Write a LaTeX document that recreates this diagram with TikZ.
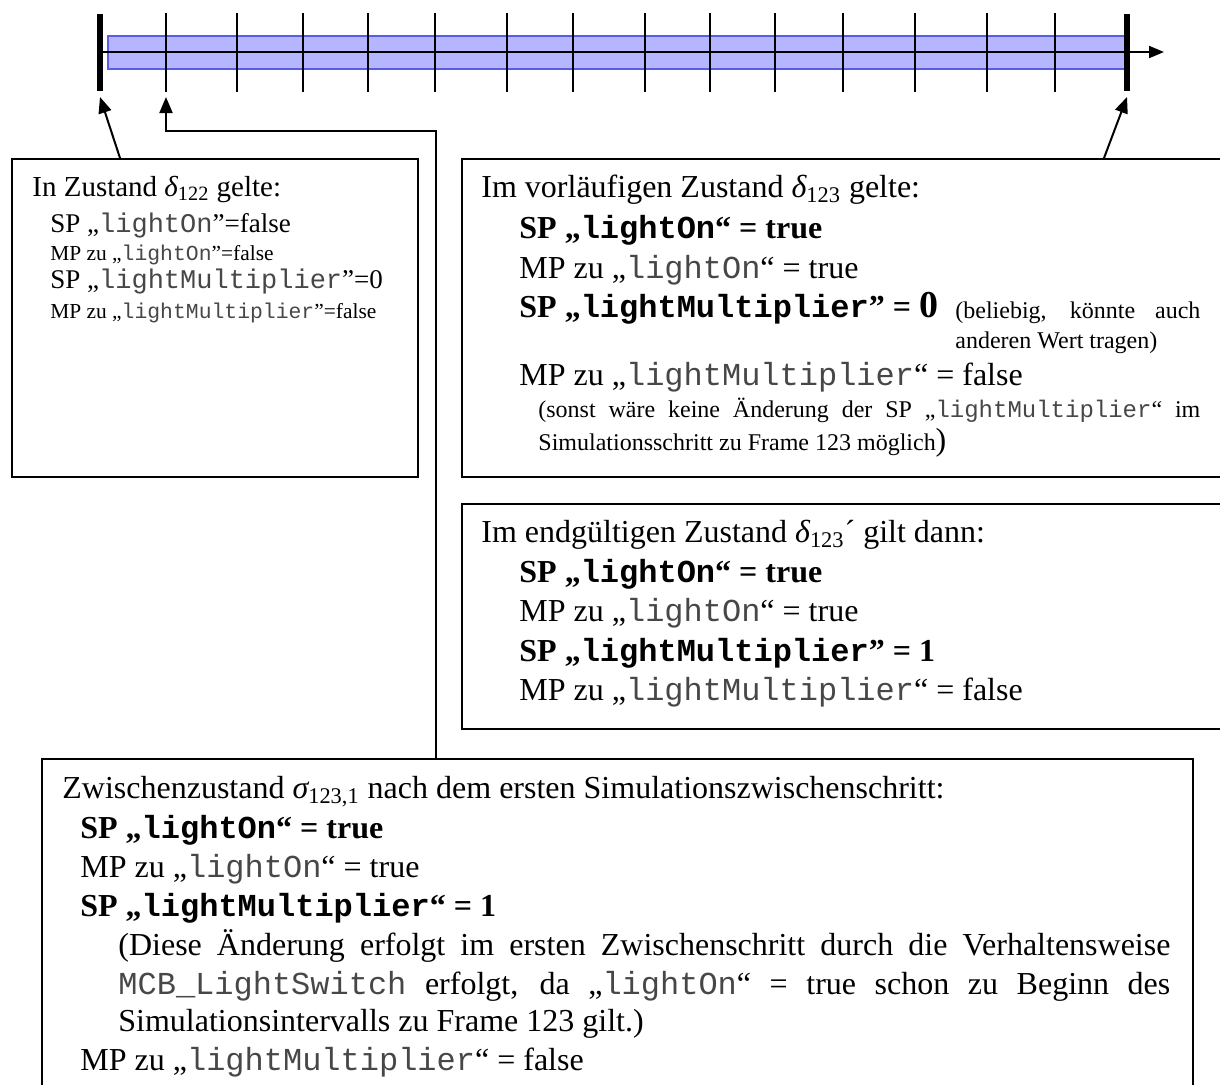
\documentclass[tikz,border=0pt]{standalone}
\usepackage{fontspec}
\setmainfont{Liberation Serif}
\setmonofont{Liberation Mono}
\usetikzlibrary{arrows.meta,calc}

\definecolor{bandfill}{RGB}{182,182,255}
\definecolor{bandline}{RGB}{90,90,235}
\definecolor{codegray}{gray}{0.28}

% identifiers in monospace
\newcommand{\cd}[1]{{\ttfamily\color{codegray}#1}}
\newcommand{\cdb}[1]{{\ttfamily #1}}
\newcommand{\ix}[1]{\textsubscript{#1}}

\tikzset{
  frame/.style={draw, line width=1pt, inner sep=0pt, anchor=north west},
  tick/.style={line width=1pt},
  bigtick/.style={line width=2.6pt},
  link/.style={line width=1pt, -{Triangle[length=8pt,width=6.5pt]}},
  txt/.style={anchor=base west, inner sep=0pt, font=\fontsize{16}{19}\selectfont},
  txth/.style={anchor=base west, inner sep=0pt, font=\fontsize{14.5}{17}\selectfont},
  txtm/.style={anchor=base west, inner sep=0pt, font=\fontsize{13.5}{16}\selectfont},
  txts/.style={anchor=base west, inner sep=0pt, font=\fontsize{10.7}{12}\selectfont},
  note/.style={anchor=base west, inner sep=0pt, font=\fontsize{12}{14}\selectfont},
}

\begin{document}
\begin{tikzpicture}[x=0.5pt,y=-0.5pt]
\useasboundingbox (0,0) rectangle (1220,1084);
\clip (0,0) rectangle (1220,1084);

% time axis with the simulated interval
\fill[bandfill] (108,36) rectangle (1125,69);
\draw[bandline, line width=1pt] (108,36) rectangle (1125,69);
\foreach \x in {166,237,303,368,435,507,573,645,710,775,843,915,987,1055}
  \draw[tick] (\x,13) -- (\x,92);
\draw[bigtick] (100,14) -- (100,91);
\draw[bigtick] (1127,14) -- (1127,91);
\draw[line width=1pt, -{Triangle[length=7.5pt,width=6pt]}] (100,52) -- (1164,52);

\coordinate (t0) at (100,97);
\coordinate (t1) at (166,97);
\coordinate (t15) at (1127,97);

% boxes
\node[frame, minimum width=203pt, minimum height=159pt] (b1) at (11,158) {};
\node[frame, minimum width=390pt, minimum height=159pt] (b2) at (461,158) {};
\node[frame, minimum width=390pt, minimum height=112.5pt] (b3) at (461,503) {};
\node[frame, minimum width=575.5pt, minimum height=180pt] (b4) at (41,758) {};

% connectors
\draw[link] ([xshift=54.5pt]b1.north west) -- (t0);
\draw[link] ([xshift=197.5pt]b4.north west) |- ($(t1)+(0,34)$) -- (t1);
\draw[link] ([xshift=321.5pt]b2.north west) -- (t15);

% state delta_122
\node[txth] (b1t) at (32,196) {In Zustand {\itshape δ}\ix{122} gelte:};
\node[txtm] (b1a) at (50,232) {SP „\cd{lightOn}”=false};
\node[txts] (b1b) at (50,260) {MP zu „\cd{lightOn}”=false};
\node[txtm] (b1c) at (50,288) {SP „\cd{lightMultiplier}”=0};
\node[txts] (b1d) at (50,318) {MP zu „\cd{lightMultiplier}”=false};

% preliminary state delta_123
\node[txt] (b2t) at (481,197) {Im vorläufigen Zustand {\itshape δ}\ix{123} gelte:};
\node[txt] (b2a) at (519,238) {\bfseries SP „\cdb{lightOn}“ = true};
\node[txt] (b2b) at (519,278) {MP zu „\cd{lightOn}“ = true};
\node[txt] (b2c) at (519,317) {\bfseries SP „\cdb{lightMultiplier}” = {\fontsize{19}{19}\selectfont 0}};
\node[note] (b2n1) at (955,318) {\makebox[122.5pt][s]{(beliebig, könnte auch}};
\node[note] (b2n2) at (955,348) {anderen Wert tragen)};
\node[txt] (b2d) at (519,385) {MP zu „\cd{lightMultiplier}“ = false};
\node[note] (b2n3) at (538,417) {\makebox[331pt][s]{(sonst wäre keine Änderung der SP „\cd{lightMultiplier}“ im}};
\node[note] (b2n4) at (538,450) {Simulationsschritt zu Frame 123 möglich{\fontsize{16}{16}\selectfont )}};

% final state delta_123'
\node[txt] (b3t) at (481,542) {Im endgültigen Zustand {\itshape δ}\ix{123}´ gilt dann:};
\node[txt] (b3a) at (519,582) {\bfseries SP „\cdb{lightOn}“ = true};
\node[txt] (b3b) at (519,621) {MP zu „\cd{lightOn}“ = true};
\node[txt] (b3c) at (519,661) {\bfseries SP „\cdb{lightMultiplier}” = 1};
\node[txt] (b3d) at (519,700) {MP zu „\cd{lightMultiplier}“ = false};

% intermediate state sigma_123,1
\node[txt] (b4t) at (62,798) {Zwischenzustand {\itshape σ}\ix{123,1} nach dem ersten Simulationszwischenschritt:};
\node[txt] (b4a) at (80,838) {\bfseries SP „\cdb{lightOn}“ = true};
\node[txt] (b4b) at (80,877) {MP zu „\cd{lightOn}“ = true};
\node[txt] (b4c) at (80,916) {\bfseries SP „\cdb{lightMultiplier}“ = 1};
\node[txt] (b4n1) at (118,955) {\makebox[526pt][s]{(Diese Änderung erfolgt im ersten Zwischenschritt durch die Verhaltensweise}};
\node[txt] (b4n2) at (118,994) {\makebox[526pt][s]{\cd{MCB\_LightSwitch} erfolgt, da „\cd{lightOn}“ = true schon zu Beginn des}};
\node[txt] (b4n3) at (118,1031) {Simulationsintervalls zu Frame 123 gilt.)};
\node[txt] (b4d) at (80,1070) {MP zu „\cd{lightMultiplier}“ = false};
\end{tikzpicture}
\end{document}
